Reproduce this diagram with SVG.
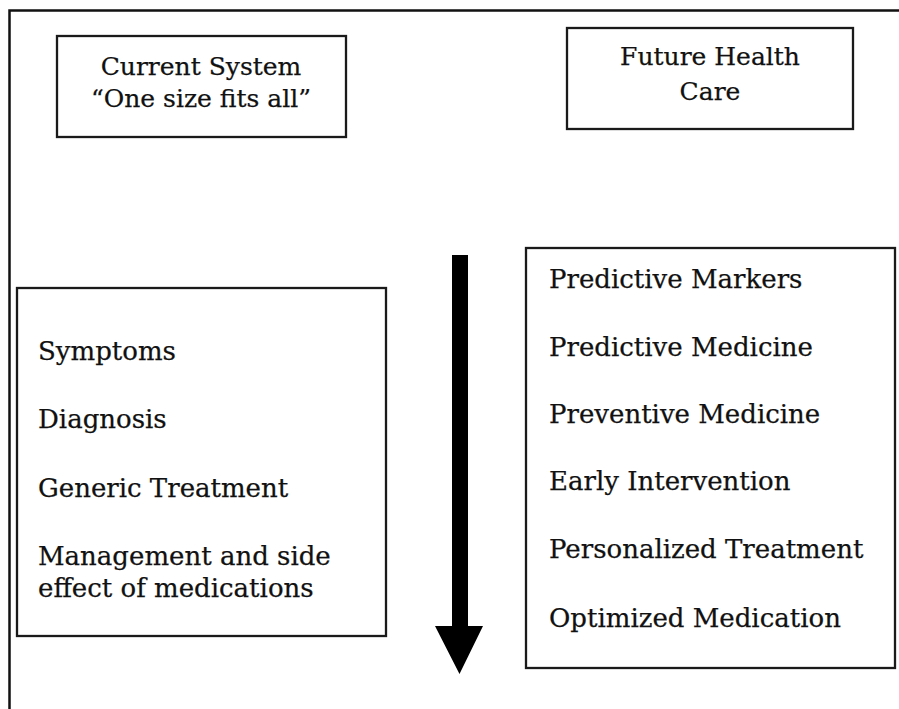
<svg xmlns="http://www.w3.org/2000/svg" width="899" height="709" viewBox="0 0 899 709">
  <style>
    .box { fill: #fff; stroke: #1a1a1a; stroke-width: 2.3; }
    .frame { fill: none; stroke: #111; stroke-width: 2.5; }
    text { font-family: "DejaVu Serif", "Liberation Serif", serif; font-size: 26px; fill: #111; stroke: #111; stroke-width: 0.25; }
    .c { text-anchor: middle; font-size: 25px; }
  </style>
  <rect width="899" height="709" fill="#fff"/>
  <!-- outer frame: left and top edges only -->
  <path class="frame" d="M9.5 709 V10.5 H899"/>

  <g id="current-system">
    <rect class="box" x="57" y="36" width="289" height="101"/>
    <text class="c" x="201" y="75">Current System</text>
    <text class="c" x="201" y="107">“One size fits all”</text>
  </g>

  <g id="future-health-care">
    <rect class="box" x="567" y="28" width="286" height="101"/>
    <text class="c" x="710" y="65">Future Health</text>
    <text class="c" x="710" y="100">Care</text>
  </g>

  <g id="current-steps">
    <rect class="box" x="17" y="288" width="369" height="348"/>
    <text x="38" y="360">Symptoms</text>
    <text x="38" y="428">Diagnosis</text>
    <text x="38" y="497">Generic Treatment</text>
    <text x="38" y="565">Management and side</text>
    <text x="38" y="597">effect of medications</text>
  </g>

  <g id="future-steps">
    <rect class="box" x="526" y="248" width="369" height="420"/>
    <text x="549" y="288">Predictive Markers</text>
    <text x="549" y="356">Predictive Medicine</text>
    <text x="549" y="423">Preventive Medicine</text>
    <text x="549" y="490">Early Intervention</text>
    <text x="549" y="558">Personalized Treatment</text>
    <text x="549" y="627">Optimized Medication</text>
  </g>

  <g id="connectors">
    <path d="M452 255 H468 V626 H483 L459.5 674 L435 626 H452 Z" fill="#000"/>
  </g>
</svg>
